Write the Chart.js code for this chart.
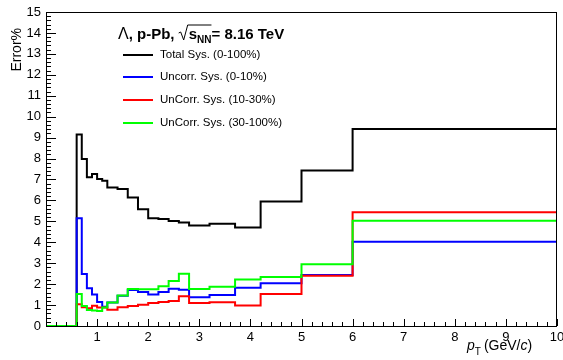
<!DOCTYPE html>
<html>
<head>
<meta charset="utf-8">
<script src="https://cdn.jsdelivr.net/npm/chart.js@4.4.1/dist/chart.umd.min.js"></script>
<style>
  html, body { margin: 0; padding: 0; background: #fff; }
</style>
</head>
<body>
<canvas id="sysChart" width="563" height="360"></canvas>
<script>
// pT bin edges in GeV/c (first bin 0-0.6 is empty)
const binEdges = [0, 0.6, 0.7, 0.8, 0.9, 1.0, 1.1, 1.2, 1.4, 1.6, 1.8, 2.0, 2.2, 2.4, 2.6, 2.8, 3.2, 3.7, 4.2, 5.0, 6.0, 10];

// relative systematic uncertainty per bin, in %
const totalSys   = [0, 9.15, 7.98, 7.11, 7.26, 7.02, 6.94, 6.62, 6.54, 6.14, 5.58, 5.15, 5.11, 5.02, 4.94, 4.80, 4.88, 4.70, 5.95, 7.43, 9.41];
const uncorr0_10   = [0, 5.15, 2.49, 1.80, 1.50, 1.15, 0.92, 1.12, 1.44, 1.72, 1.62, 1.50, 1.63, 1.78, 1.73, 1.37, 1.48, 1.83, 2.04, 2.44, 4.03];
const uncorr10_30  = [0, 1.04, 0.90, 0.85, 0.97, 0.88, 0.88, 0.78, 0.89, 0.96, 1.02, 1.10, 1.15, 1.20, 1.42, 1.10, 1.14, 0.98, 1.53, 2.40, 5.43];
const uncorr30_100 = [0, 1.53, 0.96, 0.76, 0.74, 0.72, 0.88, 1.12, 1.46, 1.77, 1.75, 1.75, 1.90, 2.15, 2.50, 1.77, 1.88, 2.22, 2.34, 2.95, 5.03];

const xTicks = [1, 2, 3, 4, 5, 6, 7, 8, 9, 10];
const yTicks = [0, 1, 2, 3, 4, 5, 6, 7, 8, 9, 10, 11, 12, 13, 14, 15];

const legendLabels = ['Total Sys. (0-100%)', 'Uncorr. Sys. (0-10%)', 'UnCorr. Sys. (10-30%)', 'UnCorr. Sys. (30-100%)'];
const lineColors = ['#000000', '#0000ff', '#ff0000', '#00ff00'];

const FONT = '"Liberation Sans", Arial, Helvetica, sans-serif';

// turn bin contents into step points: one point per low edge, plus the last upper edge
function toSteps(vals) {
    const pts = vals.map((v, i) => ({x: binEdges[i], y: v}));
    pts.push({x: binEdges[binEdges.length - 1], y: vals[vals.length - 1]});
    return pts;
}

function histDataset(label, vals, color, order) {
    return {
        label: label,
        data: toSteps(vals),
        borderColor: color,
        backgroundColor: color,
        borderWidth: 2,
        stepped: true,
        pointRadius: 0,
        fill: false,
        order: order
    };
}

// frame, inward ticks, axis titles and the legend box
const rootStyle = {
    id: 'rootStyle',
    afterDraw(chart) {
        const {ctx, chartArea: a, scales: {x, y}} = chart;
        ctx.save();
        ctx.strokeStyle = '#000';
        ctx.lineWidth = 1;
        ctx.strokeRect(a.left + 0.5, a.top + 0.5, a.right - a.left - 1, a.bottom - a.top);

        ctx.beginPath();
        for (let i = 0; i <= 50; i++) {
            const px = Math.round(x.getPixelForValue(i * 0.2)) + 0.5;
            const len = i % 5 === 0 ? 7 : 4;
            ctx.moveTo(px, a.bottom);
            ctx.lineTo(px, a.bottom - len);
        }
        for (let i = 0; i <= 75; i++) {
            const py = Math.round(y.getPixelForValue(i * 0.2)) + 0.5;
            const len = i % 5 === 0 ? 10 : 5;
            ctx.moveTo(a.left, py);
            ctx.lineTo(a.left + len, py);
        }
        ctx.stroke();

        ctx.fillStyle = '#000';
        // y title, right-aligned to the top of the axis
        ctx.save();
        ctx.translate(17, 28);
        ctx.rotate(-Math.PI / 2);
        ctx.font = '14px ' + FONT;
        ctx.textAlign = 'right';
        ctx.textBaseline = 'middle';
        ctx.fillText('Error%', 0, 0);
        ctx.restore();

        // x title: p_T (GeV/c)
        ctx.textBaseline = 'alphabetic';
        ctx.textAlign = 'left';
        let tx = 467;
        const tb = 350;
        ctx.font = 'italic 14px ' + FONT;
        ctx.fillText('p', tx, tb);
        tx += ctx.measureText('p').width;
        ctx.font = '10px ' + FONT;
        ctx.fillText('T', tx, tb + 5);
        tx += ctx.measureText('T').width + 3;
        ctx.font = '14px ' + FONT;
        ctx.fillText('(GeV/', tx, tb);
        tx += ctx.measureText('(GeV/').width;
        ctx.font = 'italic 14px ' + FONT;
        ctx.fillText('c', tx, tb);
        tx += ctx.measureText('c').width;
        ctx.font = '14px ' + FONT;
        ctx.fillText(')', tx, tb);

        // legend header
        let hx = 118;
        const hb = 39;
        ctx.font = '16px ' + FONT;
        ctx.fillText('\u039B', hx, hb);
        hx += ctx.measureText('\u039B').width;
        ctx.font = 'bold 15px ' + FONT;
        ctx.fillText(', p-Pb, ', hx, hb);
        hx += ctx.measureText(', p-Pb, ').width;
        // radical sign drawn by hand
        ctx.beginPath();
        ctx.lineWidth = 1;
        ctx.moveTo(hx, hb - 6);
        ctx.lineTo(hx + 2, hb - 7);
        ctx.lineTo(hx + 5, hb + 1);
        ctx.lineTo(hx + 9, hb - 14);
        hx += 10;
        ctx.font = 'bold 15px ' + FONT;
        ctx.fillText('s', hx, hb);
        hx += ctx.measureText('s').width;
        ctx.font = 'bold 10px ' + FONT;
        ctx.fillText('NN', hx, hb + 4);
        hx += ctx.measureText('NN').width;
        ctx.lineTo(hx, hb - 14);
        ctx.stroke();
        ctx.font = 'bold 15px ' + FONT;
        ctx.fillText('= 8.16 TeV', hx, hb);

        // legend entries
        const rows = [55, 77, 100, 123];
        ctx.font = '11.5px ' + FONT;
        ctx.textBaseline = 'middle';
        rows.forEach((ry, i) => {
            ctx.strokeStyle = lineColors[i];
            ctx.lineWidth = 2;
            ctx.beginPath();
            ctx.moveTo(123, ry);
            ctx.lineTo(153, ry);
            ctx.stroke();
            ctx.fillText(legendLabels[i], 160, ry);
        });
        ctx.restore();
    }
};

const ctx = document.getElementById('sysChart');
new Chart(ctx, {
    type: 'line',
    data: {
        datasets: [
            histDataset(legendLabels[0], totalSys, lineColors[0], 4),
            histDataset(legendLabels[1], uncorr0_10, lineColors[1], 3),
            histDataset(legendLabels[2], uncorr10_30, lineColors[2], 2),
            histDataset(legendLabels[3], uncorr30_100, lineColors[3], 1)
        ]
    },
    options: {
        responsive: false,
        animation: false,
        devicePixelRatio: 1,
        layout: { padding: { top: 12, right: 6, left: 0, bottom: 0 } },
        scales: {
            x: {
                type: 'linear',
                min: 0,
                max: 10,
                grid: { display: false, drawTicks: false },
                border: { display: false },
                afterBuildTicks: (s) => { s.ticks = xTicks.map(v => ({value: v})); },
                ticks: {
                    autoSkip: false,
                    maxRotation: 0,
                    padding: 4,
                    color: '#000',
                    font: { family: FONT, size: 13 }
                },
                afterFit: (s) => { s.height = 34; s.paddingLeft = 0; s.paddingRight = 0; }
            },
            y: {
                min: 0,
                max: 15,
                grid: { display: false, drawTicks: false },
                border: { display: false },
                afterBuildTicks: (s) => { s.ticks = yTicks.map(v => ({value: v})); },
                ticks: {
                    autoSkip: false,
                    padding: 5,
                    color: '#000',
                    font: { family: FONT, size: 13 }
                },
                afterFit: (s) => { s.width = 46; s.paddingTop = 0; s.paddingBottom = 0; }
            }
        },
        plugins: {
            legend: { display: false },
            tooltip: { enabled: false }
        }
    },
    plugins: [rootStyle]
});
</script>
</body>
</html>
